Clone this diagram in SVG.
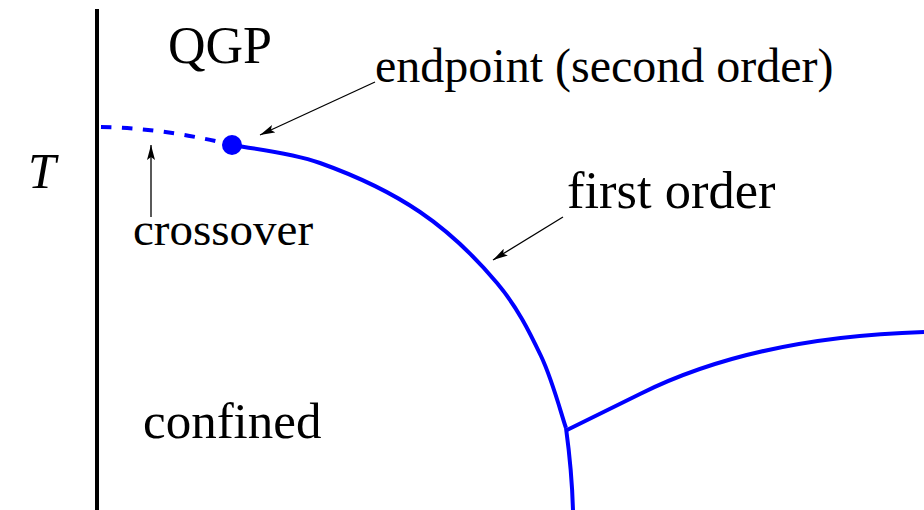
<svg xmlns="http://www.w3.org/2000/svg" width="924" height="510" viewBox="0 0 924 510">
  <style>
    .lbl { font-family: "Liberation Serif", "Times New Roman", serif; font-size: 50px; fill: #000; }
    .blue { fill: none; stroke: #0000ff; stroke-width: 4; stroke-linecap: butt; stroke-linejoin: round; }
    .arr { fill: none; stroke: #000; stroke-width: 1.3; }
  </style>
  <defs>
    <marker id="ah" viewBox="0 0 15 8" refX="15" refY="4" markerWidth="15" markerHeight="8" markerUnits="userSpaceOnUse" orient="auto">
      <path d="M0,0 L15,4 L0,8 L3,4 z" fill="#000"/>
    </marker>
  </defs>
  <rect width="924" height="510" fill="#fff"/>

  <g id="axis">
    <line x1="97" y1="9" x2="97" y2="510" stroke="#000" stroke-width="4"/>
    <text class="lbl" x="28" y="188" font-style="italic">T</text>
  </g>

  <g id="crossover-line">
    <path class="blue" d="M101,127 Q160,128 224,143" stroke-width="5" stroke-dasharray="10.5 10.5"/>
  </g>

  <g id="first-order-line">
    <path class="blue" d="M232,145 C246.7,148 288.7,151.8 320,163 C351.3,174.2 390.5,192 420,212 C449.5,232 476.8,259 497,283 C517.2,307 529.5,331.8 541,356 C552.5,380.2 561.8,416 566,428"/>
    <path class="blue" d="M566,428 C569,450 572,475 573,510"/>
    <path class="blue" d="M567,430 L640,394 C700,364 790,336 924,332"/>
  </g>

  <g id="endpoint">
    <circle cx="232" cy="145" r="10" fill="#0000ff"/>
  </g>

  <g id="label-qgp"><text class="lbl" x="168" y="63" style="font-size:52px">QGP</text></g>
  <g id="label-endpoint"><text class="lbl" x="375" y="82" style="font-size:48px">endpoint (second order)</text></g>
  <g id="label-first-order"><text class="lbl" x="567" y="208" style="font-size:52.5px">first order</text></g>
  <g id="label-crossover"><text class="lbl" x="133" y="245" style="font-size:47px">crossover</text></g>
  <g id="label-confined"><text class="lbl" x="143" y="438" style="font-size:51px">confined</text></g>

  <g id="connectors">
    <line class="arr" x1="375" y1="82" x2="260" y2="135" marker-end="url(#ah)"/>
    <line class="arr" x1="151" y1="217" x2="151" y2="145" marker-end="url(#ah)"/>
    <line class="arr" x1="563" y1="217" x2="493" y2="260" marker-end="url(#ah)"/>
  </g>
</svg>
